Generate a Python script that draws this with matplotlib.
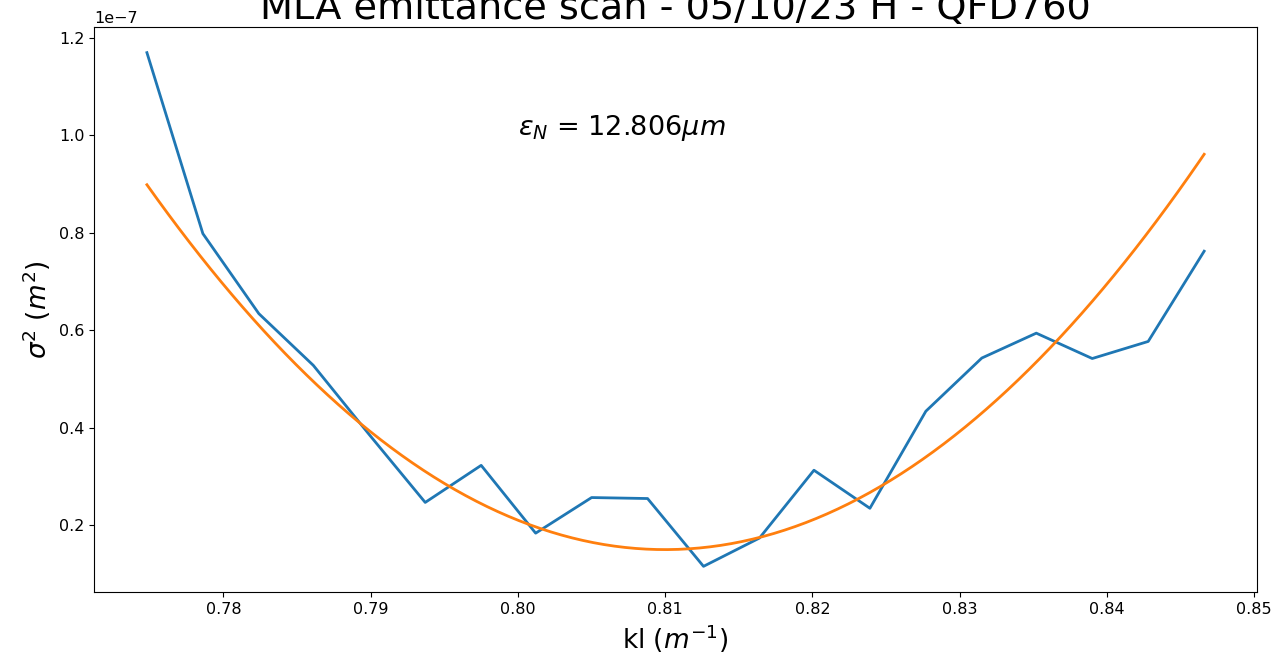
import numpy as np
import matplotlib
matplotlib.use("Agg")
import matplotlib.pyplot as plt

# quadrupole strength scan (kl, 1/m)
kl = np.array([0.7748, 0.7786, 0.7824, 0.7861, 0.7899, 0.7937, 0.7975,
               0.8012, 0.8050, 0.8088, 0.8126, 0.8164, 0.8201, 0.8239,
               0.8277, 0.8315, 0.8352, 0.8390, 0.8428, 0.8466])

# measured beam size squared, in units of 1e-7 m^2
sigma2_e7 = np.array([1.169, 0.798, 0.634, 0.528, 0.386, 0.247, 0.323,
                      0.184, 0.257, 0.255, 0.116, 0.174, 0.313, 0.235,
                      0.434, 0.543, 0.594, 0.542, 0.577, 0.762])

# fitted curve at the same kl values (1e-7 m^2)
fit_e7 = np.array([0.895, 0.747, 0.611, 0.496, 0.394, 0.311, 0.245,
                   0.197, 0.165, 0.151, 0.154, 0.175, 0.212, 0.267,
                   0.340, 0.430, 0.534, 0.659, 0.801, 0.962])

emittance_um = 12.806
title = "MLA emittance scan - 05/10/23 H - QFD760"

sigma2 = sigma2_e7 * 1e-7

# smooth parabola through the fit values
coef = np.polyfit(kl, fit_e7 * 1e-7, 2)
kl_fit = np.linspace(kl.min(), kl.max(), 200)
sigma2_fit = np.polyval(coef, kl_fit)

fig = plt.figure(figsize=(12.71, 6.64), dpi=100)
ax = fig.add_axes([0.074, 0.1084, 0.915, 0.851])

ax.plot(kl, sigma2, color="#1f77b4", lw=2)
ax.plot(kl_fit, sigma2_fit, color="#ff7f0e", lw=2)

ax.text(0.80, 1.0e-7, r"$\epsilon_N$ = " + f"{emittance_um:.3f}" + r"$\mu m$", fontsize=19.5)

ax.set_title(title, fontsize=27.5)
ax.set_xlabel(r"kl ($m^{-1}$)", fontsize=19)
ax.set_ylabel(r"$\sigma^2$ ($m^2$)", fontsize=19)
ax.tick_params(labelsize=11.5)
ax.yaxis.get_offset_text().set_fontsize(11.5)

fig.savefig("out.png", dpi=100)
